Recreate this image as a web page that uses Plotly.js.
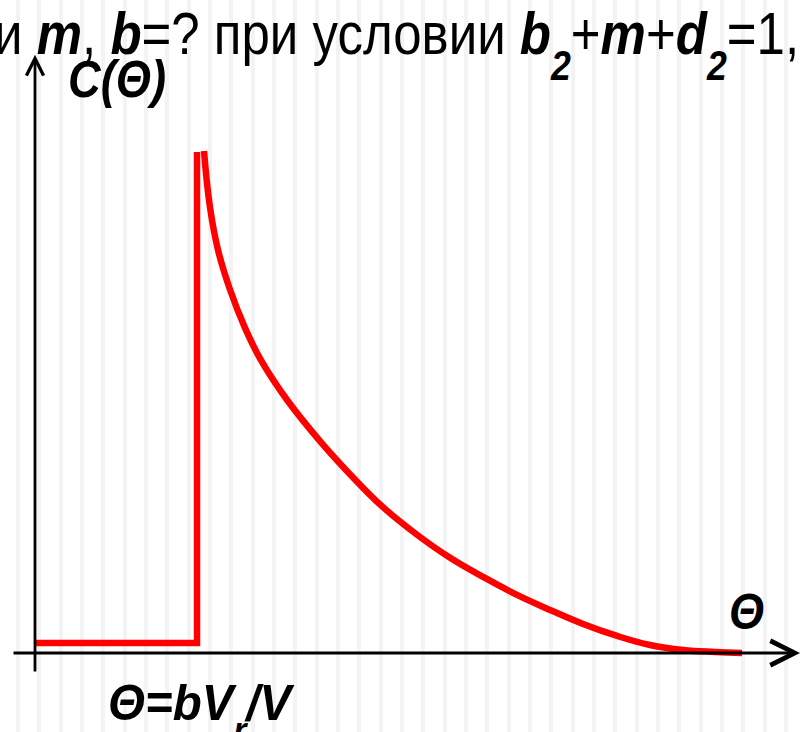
<!DOCTYPE html>
<html>
<head>
<meta charset="utf-8">
<script src="https://cdn.plot.ly/plotly-3.0.1.min.js"></script>
<style>
  html, body { margin: 0; padding: 0; background: #ffffff; }
  #chart { width: 801px; height: 732px; }
</style>
</head>
<body>
<div id="chart"></div>
<script>
// Response curve C(Θ): flat low level before Θ = bVr/V, then a step and a decay.
// Θ is measured in units of the step position (step at Θ = 1), C in units of the peak.
const thetaStep = [0, 1, 1];
const cStep = [0.02, 0.02, 1.0];

const thetaDecay = [1.043, 1.080, 1.130, 1.204, 1.296, 1.401, 1.556, 1.759, 1.944, 2.148, 2.358, 2.562, 2.765, 2.975, 3.179, 3.383, 3.593, 3.796, 4.000, 4.198, 4.364];
const cDecay     = [1.002, 0.890, 0.804, 0.725, 0.649, 0.581, 0.505, 0.423, 0.357, 0.291, 0.236, 0.190, 0.152, 0.116, 0.086, 0.058, 0.034, 0.016, 0.006, 0.002, 0.000];

// Axis extents (with arrow tips) in the same units
const xAxisFrom = -0.142, xAxisTip = 4.722;
const yAxisFrom = -0.040, yAxisTip = 1.194;

const headline = 'и <b><i>m</i></b>, <b><i>b</i></b>=? при условии <b><i>b</i></b><sub><b><i>2</i></b></sub>+<b><i>m</i></b>+<b><i>d</i></b><sub><b><i>2</i></b></sub>=1,';

const W = 801, H = 732;
const px = v => v / W;        // pixel column -> paper fraction
const py = v => 1 - v / H;    // pixel row -> paper fraction

const sans = '"Liberation Sans", Arial, sans-serif';
const red = '#ff0000';

// horizontal squeeze for each label (narrow lettering), in annotation order after the two axes
const squeeze = [0.85, 0.87, 0.9, 0.95];
// how much deeper the subscripts sit than the default
const subDrop = 2.1;

const traces = [
  {
    x: thetaStep, y: cStep, type: 'scatter', mode: 'lines',
    line: { color: red, width: 6.5 }, hoverinfo: 'skip'
  },
  {
    x: thetaDecay, y: cDecay, type: 'scatter', mode: 'lines',
    line: { color: red, width: 6.5, shape: 'spline', smoothing: 1.2 }, hoverinfo: 'skip'
  }
];

const layout = {
  width: W, height: H,
  margin: { l: 0, r: 0, t: 0, b: 0 },
  paper_bgcolor: '#ffffff', plot_bgcolor: '#ffffff',
  showlegend: false,
  xaxis: {
    range: [-0.216, 4.728],
    showgrid: true, gridcolor: '#f3f3f3', gridwidth: 4,
    tick0: -0.105, dtick: 0.1317,
    zeroline: false, showline: false, showticklabels: false, ticks: '',
    fixedrange: true
  },
  yaxis: {
    range: [-0.1577, 1.3034],
    showgrid: false, zeroline: false, showline: false, showticklabels: false, ticks: '',
    fixedrange: true
  },
  annotations: [
    // horizontal Θ axis
    {
      x: xAxisTip, y: 0, ax: xAxisFrom, ay: 0, xref: 'x', yref: 'y', axref: 'x', ayref: 'y',
      text: '', showarrow: true, arrowhead: 5, arrowsize: 1.6, arrowwidth: 3, arrowcolor: '#000000'
    },
    // vertical C axis
    {
      x: 0, y: yAxisTip, ax: 0, ay: yAxisFrom, xref: 'x', yref: 'y', axref: 'x', ayref: 'y',
      text: '', showarrow: true, arrowhead: 5, arrowsize: 1.2, arrowwidth: 2.8, arrowcolor: '#000000'
    },
    {
      x: px(-8), y: py(38), xref: 'paper', yref: 'paper', xanchor: 'left', yanchor: 'middle',
      text: headline, showarrow: false,
      font: { family: sans, size: 60, color: '#000000' }
    },
    {
      x: px(66), y: py(79), xref: 'paper', yref: 'paper', xanchor: 'left', yanchor: 'middle',
      text: '<b><i>C(Θ)</i></b>', showarrow: false,
      font: { family: sans, size: 52, color: '#000000' }
    },
    {
      x: px(746), y: py(612), xref: 'paper', yref: 'paper', xanchor: 'center', yanchor: 'middle',
      text: '<b><i>Θ</i></b>', showarrow: false,
      font: { family: sans, size: 50, color: '#000000' }
    },
    {
      x: px(106), y: py(706), xref: 'paper', yref: 'paper', xanchor: 'left', yanchor: 'middle',
      text: '<b><i>Θ=bV<sub>r</sub>/V</i></b>', showarrow: false,
      font: { family: sans, size: 50, color: '#000000' }
    }
  ]
};

Plotly.newPlot('chart', traces, layout, { staticPlot: true, displayModeBar: false }).then(gd => {
  const texts = gd.querySelectorAll('.annotation .annotation-text');
  const labels = Array.from(texts).filter(t => t.textContent.length > 0);
  labels.forEach((t, i) => {
    // lower the subscripts (shift and reset are scaled together)
    t.querySelectorAll('tspan[dy]').forEach(ts => {
      const m = String(ts.getAttribute('dy')).match(/^(-?[\d.]+)(.*)$/);
      if (m) ts.setAttribute('dy', (parseFloat(m[1]) * subDrop) + m[2]);
    });
    // condense the lettering horizontally, keeping each label's anchor fixed
    const s = squeeze[i] !== undefined ? squeeze[i] : 1;
    const bb = t.getBBox();
    const anchor = layout.annotations[i + 2].xanchor === 'center' ? bb.x + bb.width / 2 : bb.x;
    t.setAttribute('transform', `translate(${anchor * (1 - s)},0) scale(${s},1)`);
  });
});
</script>
</body>
</html>
